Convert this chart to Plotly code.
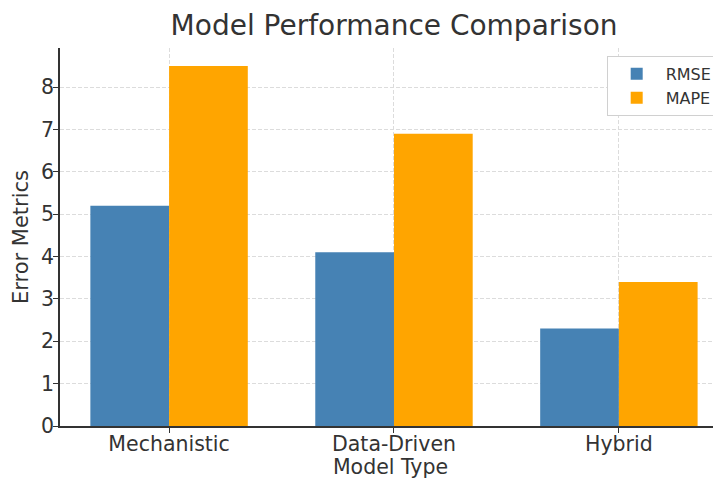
import plotly.graph_objects as go

categories = ["Mechanistic", "Data-Driven", "Hybrid"]
rmse = [5.2, 4.1, 2.3]
mape = [8.5, 6.9, 3.4]
y_ticks = [0, 1, 2, 3, 4, 5, 6, 7, 8]

FONT = "DejaVu Sans"
TXT = "#333333"
GRID = "#dcdcdc"

fig = go.Figure()
fig.add_trace(go.Bar(x=[0, 1, 2], y=rmse, name="RMSE", marker=dict(color="#4682B4", line=dict(width=0))))
fig.add_trace(go.Bar(x=[0, 1, 2], y=mape, name="MAPE", marker=dict(color="#FFA500", line=dict(width=0))))

# page body has an 8px margin, so the figure is offset by (8, 8)
fig.update_layout(
    width=713, height=471,
    margin=dict(l=52, r=0, t=40, b=53),
    paper_bgcolor="white", plot_bgcolor="white",
    barmode="group", bargap=0.3, bargroupgap=0,
    font=dict(family=FONT, color=TXT),
    title=dict(text="Model Performance Comparison", x=0.5415, xanchor="center", y=0.964, yanchor="middle",
               font=dict(size=28, color=TXT)),
    legend=dict(x=0.995, xanchor="right", y=0.979, yanchor="top",
                bgcolor="white", bordercolor="#d0d0d0", borderwidth=1,
                font=dict(size=16, color=TXT), itemsizing="constant", itemwidth=48),
    xaxis=dict(
        range=[-0.485, 2.454],
        tickmode="array", tickvals=[0, 1, 2], ticktext=categories,
        tickfont=dict(size=20.5, color=TXT),
        ticks="outside", ticklen=5, tickcolor=TXT, tickwidth=1.2,
        ticklabelstandoff=-7,
        showline=True, linecolor=TXT, linewidth=1.8,
        showgrid=True, gridcolor=GRID, griddash="4px,2px", gridwidth=1,
        zeroline=False,
        title=dict(text="Model Type", font=dict(size=20.5, color=TXT), standoff=5),
    ),
    yaxis=dict(
        range=[0, 8.925],
        tickmode="array", tickvals=y_ticks,
        tickfont=dict(size=20.5, color=TXT),
        ticks="outside", ticklen=5, tickcolor=TXT, tickwidth=1.2,
        ticklabelstandoff=-5,
        showline=True, linecolor=TXT, linewidth=1.8,
        showgrid=True, gridcolor=GRID, griddash="4px,2px", gridwidth=1,
        zeroline=False,
        title=dict(text="Error Metrics", font=dict(size=21, color=TXT), standoff=7),
    ),
)

fig.write_html("out.html")
